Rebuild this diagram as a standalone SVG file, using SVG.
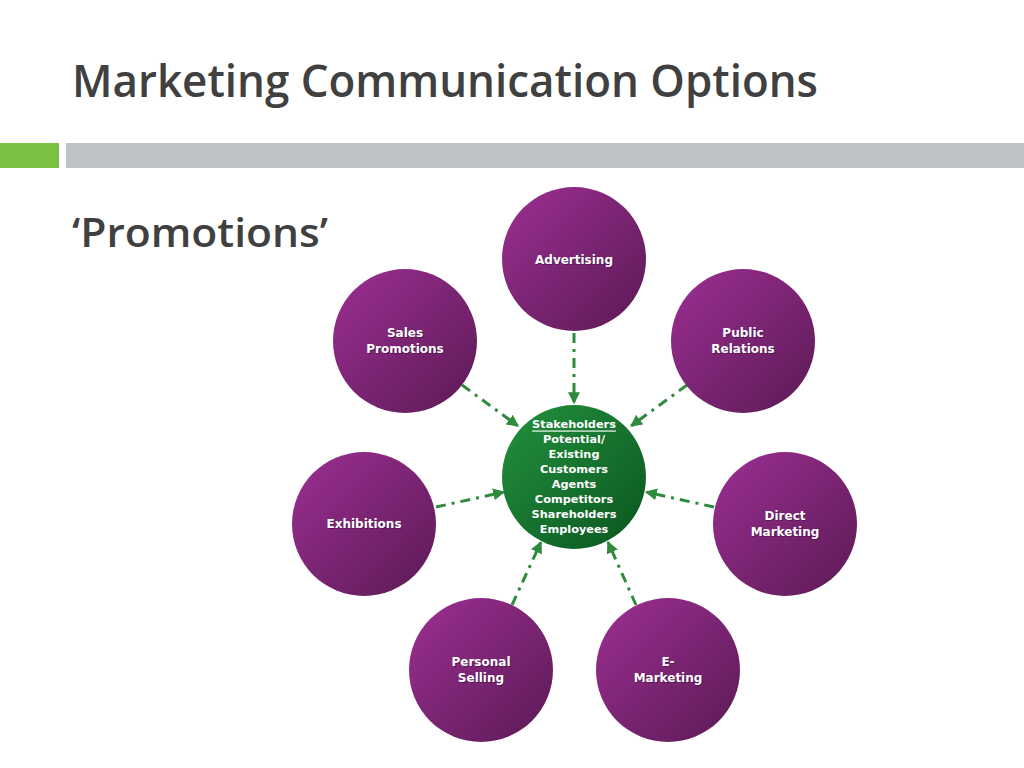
<svg xmlns="http://www.w3.org/2000/svg" width="1024" height="768" viewBox="0 0 1024 768">
<style>
.title{font-family:"Open Sans","Liberation Sans",sans-serif;font-weight:600;fill:#404040}
.lbl{font-family:"DejaVu Sans","Liberation Sans",sans-serif;font-weight:bold;font-size:12px;fill:#ffffff;text-anchor:middle;dominant-baseline:central}
.clbl{font-size:11.3px}
.sh{fill:#3a0d36;opacity:0.55}
.conn{stroke:#2e8b3c;stroke-width:3;fill:none;stroke-dasharray:10 6 3 6;marker-end:url(#arr)}
</style>
<defs>
<linearGradient id="pg" x1="0" y1="0" x2="1" y2="1">
<stop offset="0" stop-color="#9c2f92"/>
<stop offset="1" stop-color="#5b1a55"/>
</linearGradient>
<linearGradient id="gg" x1="0" y1="0" x2="1" y2="1">
<stop offset="0" stop-color="#23913d"/>
<stop offset="1" stop-color="#0a5520"/>
</linearGradient>
<marker id="arr" viewBox="0 0 10 10" refX="9" refY="5" markerWidth="4" markerHeight="4" orient="auto" markerUnits="strokeWidth">
<path d="M0,0 L10,5 L0,10 z" fill="#2e8b3c"/>
</marker>
</defs>
<rect width="1024" height="768" fill="#ffffff"/>
<text class="title" x="72" y="97" font-size="45" textLength="746" lengthAdjust="spacingAndGlyphs">Marketing Communication Options</text>
<rect x="0" y="143" width="59" height="25" fill="#7cc242"/>
<rect x="66" y="143" width="958" height="25" fill="#bfc2c4"/>
<text class="title" x="72" y="247" font-size="40" textLength="256" lengthAdjust="spacingAndGlyphs">‘Promotions’</text>

<g id="connectors">
<line class="conn" x1="574" y1="333" x2="574" y2="403"/>
<line class="conn" x1="462" y1="385" x2="518" y2="426"/>
<line class="conn" x1="687" y1="385" x2="631" y2="426"/>
<line class="conn" x1="436" y1="507" x2="504" y2="492"/>
<line class="conn" x1="714" y1="507" x2="646" y2="492"/>
<line class="conn" x1="512" y1="605" x2="541" y2="542"/>
<line class="conn" x1="636" y1="605" x2="608" y2="542"/>
</g>

<g id="advertising">
<circle cx="574" cy="259" r="72" fill="url(#pg)"/>
<text class="lbl sh" x="575" y="261">Advertising</text>
<text class="lbl" x="574" y="260">Advertising</text>
</g>
<g id="sales-promotions">
<circle cx="405" cy="341" r="72" fill="url(#pg)"/>
<text class="lbl sh" x="406" y="334">Sales</text>
<text class="lbl sh" x="406" y="350">Promotions</text>
<text class="lbl" x="405" y="333">Sales</text>
<text class="lbl" x="405" y="349">Promotions</text>
</g>
<g id="public-relations">
<circle cx="743" cy="341" r="72" fill="url(#pg)"/>
<text class="lbl sh" x="744" y="334">Public</text>
<text class="lbl sh" x="744" y="350">Relations</text>
<text class="lbl" x="743" y="333">Public</text>
<text class="lbl" x="743" y="349">Relations</text>
</g>
<g id="exhibitions">
<circle cx="364" cy="524" r="72" fill="url(#pg)"/>
<text class="lbl sh" x="365" y="525">Exhibitions</text>
<text class="lbl" x="364" y="524">Exhibitions</text>
</g>
<g id="direct-marketing">
<circle cx="785" cy="524" r="72" fill="url(#pg)"/>
<text class="lbl sh" x="786" y="517">Direct</text>
<text class="lbl sh" x="786" y="533">Marketing</text>
<text class="lbl" x="785" y="516">Direct</text>
<text class="lbl" x="785" y="532">Marketing</text>
</g>
<g id="personal-selling">
<circle cx="481" cy="670" r="72" fill="url(#pg)"/>
<text class="lbl sh" x="482" y="663">Personal</text>
<text class="lbl sh" x="482" y="679">Selling</text>
<text class="lbl" x="481" y="662">Personal</text>
<text class="lbl" x="481" y="678">Selling</text>
</g>
<g id="e-marketing">
<circle cx="668" cy="670" r="72" fill="url(#pg)"/>
<text class="lbl sh" x="669" y="663">E-</text>
<text class="lbl sh" x="669" y="679">Marketing</text>
<text class="lbl" x="668" y="662">E-</text>
<text class="lbl" x="668" y="678">Marketing</text>
</g>
<g id="stakeholders">
<circle cx="574" cy="477" r="72" fill="url(#gg)"/>
<text class="lbl clbl" x="574" y="424" text-decoration="underline">Stakeholders</text>
<text class="lbl clbl" x="574" y="439">Potential/</text>
<text class="lbl clbl" x="574" y="454">Existing</text>
<text class="lbl clbl" x="574" y="469">Customers</text>
<text class="lbl clbl" x="574" y="484">Agents</text>
<text class="lbl clbl" x="574" y="499">Competitors</text>
<text class="lbl clbl" x="574" y="514">Shareholders</text>
<text class="lbl clbl" x="574" y="529">Employees</text>
</g>
</svg>
